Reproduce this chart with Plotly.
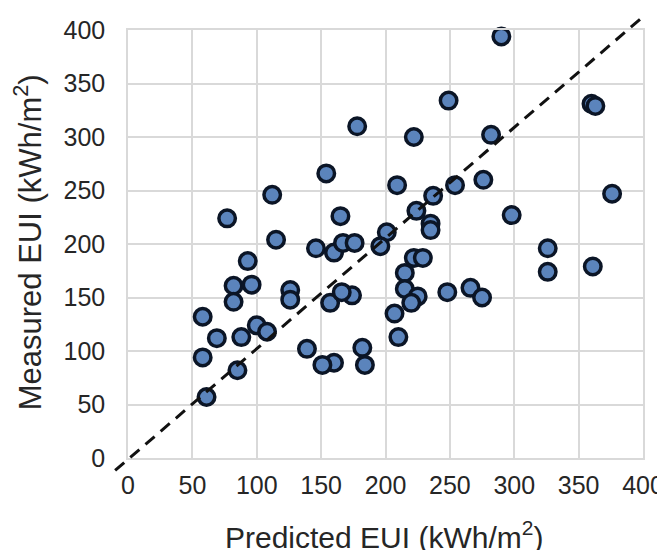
import plotly.graph_objects as go

predicted = [290, 249, 222, 282, 360, 363, 178, 154, 112, 77, 115, 146, 160, 165, 167, 176,
             93, 209, 237, 254, 276, 224, 235, 235, 298, 376, 201, 196, 222, 229, 215, 215,
             225, 220, 207, 210, 248, 266, 275, 326, 326, 361, 157, 174, 166, 160, 151, 139,
             182, 184, 126, 126, 100, 108, 82, 82, 96, 58, 69, 88, 58, 85, 61]
measured = [394, 334, 300, 302, 331, 329, 310, 266, 246, 224, 204, 196, 192, 226, 201, 201,
            184, 255, 245, 255, 260, 231, 219, 213, 227, 247, 211, 198, 187, 187, 173, 158,
            151, 145, 135, 113, 155, 159, 150, 196, 174, 179, 145, 152, 155, 89, 87, 102,
            103, 87, 157, 148, 124, 118, 161, 146, 162, 132, 112, 113, 94, 82, 57]

tick_vals = [0, 50, 100, 150, 200, 250, 300, 350, 400]
tick_text = [str(v) for v in tick_vals]

FONT = "Liberation Sans, Arial, sans-serif"

fig = go.Figure()
fig.add_trace(go.Scatter(
    x=predicted, y=measured, mode="markers",
    marker=dict(size=16.5, color="#5b84bc", line=dict(color="#0b1526", width=3.5)),
    cliponaxis=False, showlegend=False,
))

# 1:1 dashed reference line (extends slightly beyond the plot area)
fig.add_shape(type="line", xref="x domain", yref="y domain",
              x0=-0.025, y0=-0.029, x1=1.004, y1=1.035,
              line=dict(color="#111111", width=3, dash="12px,8px"))

axis_common = dict(
    range=[0, 400], tickvals=tick_vals, ticktext=tick_text, automargin=False,
    showgrid=True, gridcolor="#d9d9d9", gridwidth=1.5,
    showline=True, linecolor="#d9d9d9", linewidth=1.5, mirror=True,
    zeroline=False, ticks="outside", tickcolor="rgba(0,0,0,0)",
    tickfont=dict(family=FONT, size=25, color="#262626"),
)
fig.update_xaxes(**axis_common, ticklen=4)
fig.update_yaxes(**axis_common, ticklen=16)

fig.add_annotation(text="Predicted EUI (kWh/m<sup>2</sup>)", xref="paper", yref="paper",
                   x=0.497, y=-0.18, xanchor="center", yanchor="middle", showarrow=False,
                   font=dict(family=FONT, size=30, color="#262626"))
fig.add_annotation(text="Measured EUI (kWh/m<sup>2</sup>)", xref="paper", yref="paper",
                   x=-0.195, y=0.503, xanchor="center", yanchor="middle", showarrow=False,
                   textangle=-90,
                   font=dict(family=FONT, size=31, color="#262626"))

fig.update_layout(
    width=665, height=550,
    margin=dict(l=120, r=30, t=22, b=100),
    plot_bgcolor="white", paper_bgcolor="white",
)

fig.write_html("out.html")
